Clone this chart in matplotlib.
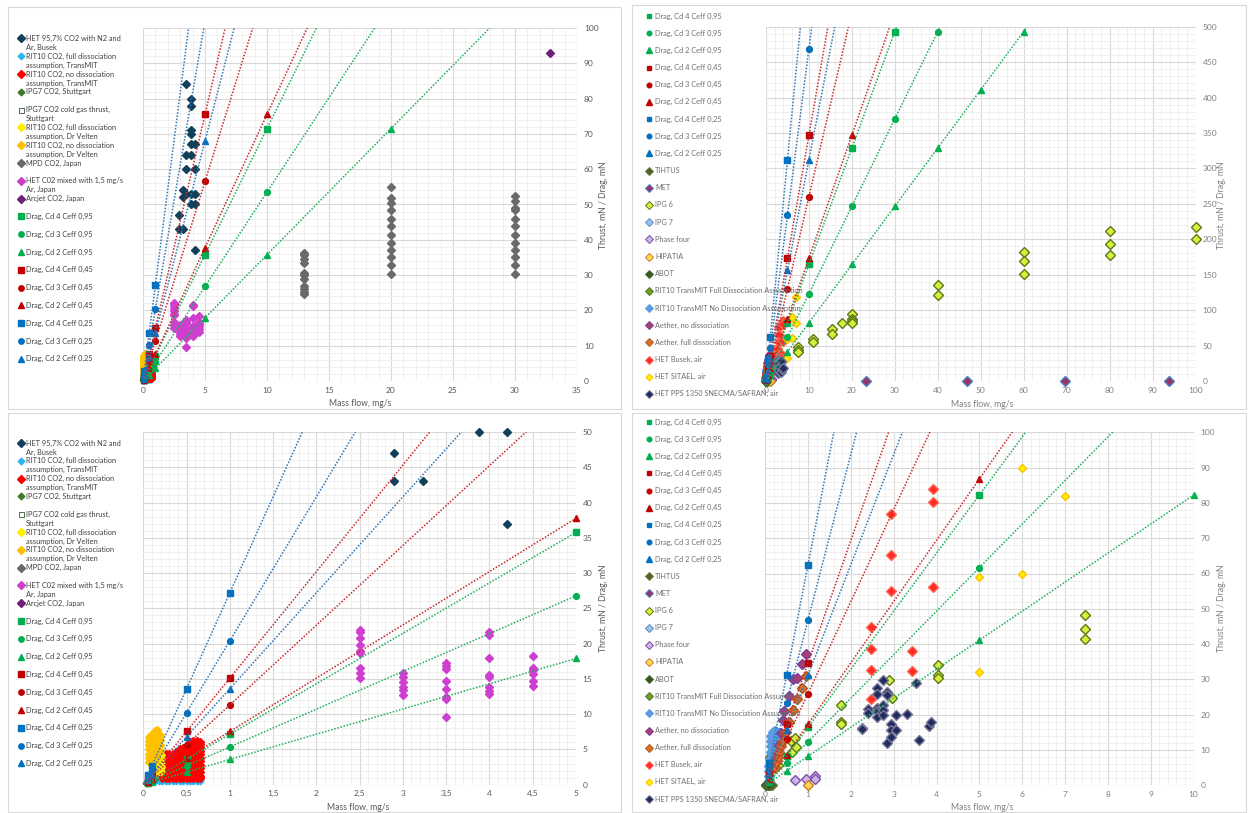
import numpy as np
import matplotlib
matplotlib.use("Agg")
import matplotlib.pyplot as plt
from matplotlib.ticker import MultipleLocator, FuncFormatter
from matplotlib.patches import Rectangle

plt.rcParams['font.family'] = ['Lato', 'DejaVu Sans']

W, H = 1248, 813

# ---------------------------------------------------------------- drag, CO2
DRAG_CO2_X = [0.05, 0.1, 0.5, 1, 5, 10, 20]
DRAG_CO2_CD4_095 = [0.36, 0.72, 3.6, 7.15, 35.8, 71.5, 143]
DRAG_CO2_CD3_095 = [0.27, 0.54, 2.7, 5.36, 26.8, 53.6, 107]
DRAG_CO2_CD2_095 = [0.18, 0.36, 1.8, 3.58, 17.9, 35.8, 71.5]
DRAG_CO2_CD4_045 = [0.76, 1.5, 7.55, 15.1, 75.5, 151, 302]
DRAG_CO2_CD3_045 = [0.57, 1.13, 5.66, 11.3, 56.6, 113, 226]
DRAG_CO2_CD2_045 = [0.38, 0.76, 3.78, 7.55, 37.8, 75.5, 151]
DRAG_CO2_CD4_025 = [1.36, 2.72, 13.6, 27.2, 136, 272, 544]
DRAG_CO2_CD3_025 = [1.02, 2.04, 10.2, 20.4, 102, 204, 408]
DRAG_CO2_CD2_025 = [0.68, 1.36, 6.8, 13.6, 68, 136, 272]

# ---------------------------------------------------------------- drag, air
DRAG_AIR_X = [0.1, 0.5, 1, 5, 10, 20, 30, 40, 50, 60]
DRAG_AIR_CD4_095 = [1.65, 8.2, 16.45, 82.2, 164.5, 329, 493, 658, 822, 987]
DRAG_AIR_CD3_095 = [1.23, 6.2, 12.3, 61.6, 123, 247, 370, 493, 617, 740]
DRAG_AIR_CD2_095 = [0.82, 4.1, 8.2, 41.1, 82.2, 164.5, 247, 329, 411, 493]
DRAG_AIR_CD4_045 = [3.47, 17.4, 34.7, 174, 347, 694, 1041, 1388, 1735, 2082]
DRAG_AIR_CD3_045 = [2.6, 13, 26, 130, 260, 521, 781, 1041, 1301, 1562]
DRAG_AIR_CD2_045 = [1.74, 8.7, 17.35, 86.8, 174, 347, 521, 694, 868, 1041]
DRAG_AIR_CD4_025 = [6.25, 31.2, 62.5, 312, 625, 1250, 1875, 2500, 3125, 3750]
DRAG_AIR_CD3_025 = [4.69, 23.4, 46.9, 234, 469, 938, 1407, 1876, 2345, 2814]
DRAG_AIR_CD2_025 = [3.12, 15.6, 31.2, 156, 312, 625, 937, 1250, 1562, 1875]

DRAG_LABELS = ["Drag, Cd 4 Ceff 0,95", "Drag, Cd 3 Ceff 0,95", "Drag, Cd 2 Ceff 0,95",
               "Drag, Cd 4 Ceff 0,45", "Drag, Cd 3 Ceff 0,45", "Drag, Cd 2 Ceff 0,45",
               "Drag, Cd 4 Ceff 0,25", "Drag, Cd 3 Ceff 0,25", "Drag, Cd 2 Ceff 0,25"]

# ---------------------------------------------------------------- CO2 thrusters
HET_BUSEK_CO2_X = [3.5, 3.88, 3.88, 3.88, 3.88, 3.88, 4.2, 3.5, 3.88, 3.5, 4.2,
                   3.2, 3.2, 3.5, 3.88, 4.2, 3.88, 4.2, 2.9, 2.9, 3.23, 4.2]
HET_BUSEK_CO2_Y = [84, 80, 78, 71, 70, 67, 67, 64, 64, 60, 60,
                   54, 52, 53, 53, 53, 50, 50, 47, 43, 43, 37]

RIT_TM_FULL_COLS = [0.10, 0.14, 0.18, 0.22, 0.26, 0.30, 0.34, 0.38, 0.42, 0.46, 0.50, 0.54, 0.58, 0.62, 0.66]
RIT_TM_FULL_Y = [[0.6, 0.9, 1.2, 1.5], [0.5, 0.8, 1.1, 1.4], [0.5, 0.8, 1.1], [0.5, 0.8],
                 [0.5, 0.8], [0.5, 0.8], [0.5, 0.8], [0.5, 0.8], [0.5, 0.8], [0.5, 0.8],
                 [0.5, 0.8], [0.5, 0.8], [0.5, 0.8], [0.5, 0.8], [0.5, 0.8]]

RIT_TM_NO_COLS = [0.22, 0.26, 0.30, 0.34, 0.38, 0.42, 0.46, 0.50, 0.54, 0.58, 0.62, 0.66]
RIT_TM_NO_Y = [
    [1.0, 1.4, 1.9, 2.4, 2.9, 3.4, 3.8],
    [0.9, 1.3, 1.8, 2.3, 2.8, 3.3, 3.8, 4.3],
    [0.9, 1.3, 1.8, 2.3, 2.8, 3.3, 3.8, 4.3],
    [0.9, 1.3, 1.8, 2.3, 2.8, 3.3, 3.8, 4.3],
    [0.9, 1.3, 1.8, 2.3, 2.8, 3.3, 3.8, 4.3, 4.6],
    [0.9, 1.3, 1.8, 2.3, 2.8, 3.3, 3.8, 4.3, 4.8, 5.1],
    [0.9, 1.3, 1.8, 2.3, 2.8, 3.3, 3.8, 4.3, 4.8, 5.2],
    [0.9, 1.3, 1.8, 2.3, 2.8, 3.3, 3.8, 4.3, 4.8, 5.2],
    [0.9, 1.3, 1.8, 2.3, 2.8, 3.3, 3.8, 4.3, 4.8, 5.3, 5.8, 6.1],
    [0.9, 1.3, 1.8, 2.3, 2.8, 3.3, 3.8, 4.3, 4.8, 5.3, 5.8, 6.2],
    [0.9, 1.3, 1.8, 2.3, 2.8, 3.3, 3.8, 4.3, 4.8, 5.3, 5.8, 6.2],
    [0.9, 1.3, 1.8, 2.3, 2.8, 3.3, 3.8, 4.3, 4.8, 5.3, 5.8, 6.0],
]

IPG7_CO2_X = [0.03, 0.06, 0.09, 0.12]
IPG7_CO2_Y = [0.2, 0.3, 0.45, 0.6]
IPG7_COLD_X = [0.04]
IPG7_COLD_Y = [0.2]

RIT_VELTEN_FULL_COLS = [0.12, 0.15, 0.18, 0.21]
RIT_VELTEN_FULL_Y = [[1.6, 2.1, 2.6, 3.1], [1.8, 2.3, 2.8, 3.3, 3.8],
                     [1.9, 2.4, 2.9, 3.4, 4.0, 4.6], [2.0, 2.5, 3.0, 3.6, 4.2]]
RIT_VELTEN_NO_COLS = [0.07, 0.10, 0.13, 0.16, 0.19]
RIT_VELTEN_NO_Y = [[3.2, 3.8, 4.4, 5.0, 5.6, 6.2, 6.7],
                   [3.0, 3.6, 4.2, 4.8, 5.4, 6.0, 6.6, 7.2],
                   [3.4, 4.0, 4.6, 5.2, 5.8, 6.4, 7.0, 7.6],
                   [3.8, 4.4, 5.0, 5.6, 6.2, 6.8, 7.4, 7.7],
                   [4.8, 5.6, 6.4, 7.1]]

MPD_CO2_COLS = [13, 20, 30]
MPD_CO2_Y = [[36.3, 35.6, 34.6, 33.4, 30.6, 29.9, 28.9, 27.0, 26.0, 25.1, 24.6],
             [54.9, 51.9, 50.5, 48.5, 45.9, 43.9, 41.5, 39.0, 37.0, 35.0, 32.9, 30.4],
             [52.5, 51.0, 48.9, 48.4, 45.9, 43.9, 41.5, 39.0, 37.0, 35.0, 32.9, 30.4]]

HET_AR_COLS = [2.5, 3.0, 3.5, 4.0, 4.5]
HET_AR_Y = [[22.0, 21.6, 20.8, 19.8, 19.0, 18.7, 16.6, 15.8, 15.1],
            [15.8, 15.3, 14.6, 13.9, 13.4, 12.7],
            [17.2, 16.8, 16.4, 14.7, 13.6, 12.4, 12.1, 9.6],
            [21.6, 21.2, 17.9, 15.6, 15.2, 13.9, 13.3, 12.8],
            [18.3, 16.6, 16.2, 15.7, 14.7, 14.0]]

ARCJET_X = [32.8]
ARCJET_Y = [93]

# ---------------------------------------------------------------- air thrusters
TIHTUS_X = [0.01, 0.03, 0.06, 0.12, 0.15]
TIHTUS_Y = [0.0, 0.1, 0.2, 0.05, 0.1]
MET_X = [23.3, 46.8, 69.7, 93.8]
MET_Y = [0, 0, 0, 0]
IPG6_X = [0.6, 0.63, 0.7, 0.72, 0.3, 1.76, 1.76, 1.76, 2.9, 2.95, 4.03, 4.03, 4.03,
          7.46, 7.46, 7.46, 10.9, 10.9, 15.3, 15.3, 17.7, 20, 20, 20, 20,
          40, 40, 60, 60, 60, 80, 80, 80, 100, 100]
IPG6_Y = [12.5, 9.5, 13.5, 10.8, 5.7, 22.8, 17.8, 17.3, 29.7, 24.8, 34.1, 31.3, 30.3,
          48.3, 44.3, 41.5, 58.8, 55.0, 73.0, 67.0, 82.0, 94.5, 88.0, 84.0, 82.0,
          136, 122, 182.5, 169, 150.5, 211.7, 193.8, 177.8, 217.8, 200.8]
IPG7_AIR_X = [0.05, 0.1]
IPG7_AIR_Y = [0.5, 1.2]
PHASE_FOUR_X = [0.69, 0.95, 1.17, 1.17]
PHASE_FOUR_Y = [1.5, 1.9, 2.7, 1.9]
HIPATIA_X = [1.0]
HIPATIA_Y = [0.2]
ABOT_X = [0.02, 0.05, 0.08, 0.1]
ABOT_Y = [0.1, 0.3, 0.5, 0.2]
RIT_AIR_FULL_X = [0.12, 0.15, 0.18, 0.2, 0.16, 0.22, 0.25]
RIT_AIR_FULL_Y = [8.0, 9.0, 10.0, 11.0, 7.0, 9.5, 12.0]
RIT_AIR_NO_X = [0.14, 0.14, 0.14, 0.14, 0.18, 0.18, 0.18, 0.18, 0.18, 0.22, 0.22, 0.22,
                0.22, 0.22, 0.26, 0.26, 0.26, 0.26, 0.30, 0.30, 0.30, 0.12, 0.10, 0.10, 0.08]
RIT_AIR_NO_Y = [9.5, 11.0, 12.5, 14.0, 9.8, 11.3, 12.8, 14.3, 15.2, 10.2, 11.7, 13.2,
                14.6, 15.4, 11.0, 12.5, 13.8, 15.0, 12.0, 13.5, 14.8, 7.5, 5.5, 4.0, 2.5]
AETHER_NO_X = [0.2, 0.25, 0.3, 0.33, 0.36, 0.41, 0.45, 0.55, 0.65, 0.74, 0.85, 0.95]
AETHER_NO_Y = [5.5, 7.5, 9.0, 11.5, 14.8, 18.5, 21.0, 25.4, 30.0, 30.3, 34.5, 37.1]
AETHER_FULL_X = [0.22, 0.25, 0.3, 0.33, 0.37, 0.42, 0.48, 0.55, 0.65, 0.74, 0.85, 0.95]
AETHER_FULL_Y = [5.0, 6.5, 8.0, 9.5, 11.0, 12.5, 15.0, 17.8, 21.2, 24.4, 27.7, 31.0]
HET_BUSEK_AIR_X = [2.46, 2.46, 2.46, 2.46, 2.94, 2.94, 2.94, 3.42, 3.42, 3.92, 3.92, 3.92]
HET_BUSEK_AIR_Y = [44.9, 38.5, 32.8, 24.4, 76.8, 65.1, 55.1, 38.0, 32.4, 84.0, 80.2, 56.2]
HET_SITAEL_X = [6, 7, 5, 6, 5, 6.94]
HET_SITAEL_Y = [89.9, 81.9, 58.9, 60.0, 32.0, 119]
HET_PPS_X = [2.25, 2.25, 2.39, 2.39, 2.6, 2.6, 2.6, 2.6, 2.6, 2.74, 2.74, 2.74, 2.74,
             2.85, 2.85, 2.85, 2.94, 2.94, 2.94, 3.06, 3.06, 3.3, 3.51, 3.6, 3.82, 3.87]
HET_PPS_Y = [16.3, 16.0, 21.5, 20.4, 27.5, 25.8, 21.8, 21.1, 19.4, 29.8, 22.8, 21.3, 19.8,
             26.5, 25.7, 11.9, 17.4, 15.7, 13.8, 19.9, 15.6, 20.3, 28.9, 12.8, 16.8, 17.9]

GREEN, RED, BLUE = '#00b050', '#c00000', '#0070c0'
LINE_COLORS = {GREEN: '#1fae5a', RED: '#c8282a', BLUE: '#2e75b6'}
DRAG_STYLE = [('s', GREEN), ('o', GREEN), ('^', GREEN),
              ('s', RED), ('o', RED), ('^', RED),
              ('s', BLUE), ('o', BLUE), ('^', BLUE)]
DRAG_MS = {'s': 4.0, 'o': 4.2, '^': 4.6}

fig = plt.figure(figsize=(W / 100, H / 100), dpi=100)
fig.patch.set_facecolor('white')

ov = fig.add_axes([0, 0, 1, 1], zorder=10)
ov.set_xlim(0, W)
ov.set_ylim(H, 0)
ov.axis('off')
ov.patch.set_alpha(0)

for (l, t, r, b) in [(8, 7, 621, 409), (632, 5, 1246, 409), (8, 413, 621, 812), (632, 413, 1246, 812)]:
    ov.add_patch(Rectangle((l, t), r - l, b - t, fill=False, ec='#d9d9d9', lw=0.8))


def comma(v, _pos):
    return ('%g' % v).replace('.', ',')


def make_axes(l, t, r, b, xmax, ymax, xmaj, xmin, ymaj, ymin, labcol):
    ax = fig.add_axes([l / W, 1 - b / H, (r - l) / W, (b - t) / H])
    ax.set_xlim(0, xmax)
    ax.set_ylim(0, ymax)
    ax.xaxis.set_major_locator(MultipleLocator(xmaj))
    ax.xaxis.set_minor_locator(MultipleLocator(xmin))
    ax.yaxis.set_major_locator(MultipleLocator(ymaj))
    ax.yaxis.set_minor_locator(MultipleLocator(ymin))
    ax.xaxis.set_major_formatter(FuncFormatter(comma))
    ax.yaxis.set_major_formatter(FuncFormatter(comma))
    ax.yaxis.tick_right()
    ax.grid(True, which='major', color='#d9d9d9', lw=0.8)
    ax.grid(True, which='minor', color='#eeeeee', lw=0.6)
    ax.set_axisbelow(True)
    for s in ax.spines.values():
        s.set_visible(False)
    ax.tick_params(axis='both', which='both', length=0, labelsize=6.0, labelcolor=labcol)
    ax.tick_params(axis='y', pad=5)
    ax.tick_params(axis='x', pad=4)
    return ax


def pts(ax, x, y, **kw):
    # only points inside the axis range are shown; those on an edge stay whole
    x = np.asarray(x, float)
    y = np.asarray(y, float)
    x0, x1 = ax.get_xlim()
    y0, y1 = ax.get_ylim()
    keep = (x >= x0) & (x <= x1 * 1.001) & (y >= y0) & (y <= y1 * 1.001)
    return ax.plot(x[keep], y[keep], ls='none', clip_on=False, **kw)


def scatter_cols(ax, cols, ylists, **kw):
    for xc, ys in zip(cols, ylists):
        pts(ax, [xc] * len(ys), ys, **kw)


def draw_drag(ax, xs, series, xmax):
    for ys, (mk, col) in zip(series, DRAG_STYLE):
        x = np.asarray(xs, float)
        y = np.asarray(ys, float)
        pts(ax, x, y, marker=mk, ms=DRAG_MS[mk], mfc=col, mec=col, zorder=5)
        slope = np.dot(x, y) / np.dot(x, x)
        ax.plot([0, xmax], [0, slope * xmax], ls=(0, (1, 1.1)), lw=1.1,
                color=LINE_COLORS[col], zorder=6)


# marker styles for CO2 series
ST_HET_BUSEK = dict(marker='D', ms=3.6, mfc='#123f5a', mec='#123f5a')
ST_RIT_TM_FULL = dict(marker='D', ms=3.4, mfc='#2ab7f0', mec='#2ab7f0')
ST_RIT_TM_NO = dict(marker='D', ms=3.6, mfc='#ff0000', mec='#ff0000')
ST_IPG7 = dict(marker='D', ms=3.4, mfc='#3f7a2a', mec='#3f7a2a')
ST_IPG7_COLD = dict(marker='s', ms=3.6, mfc='white', mec='#4d6b4d', mew=0.8)
ST_VELTEN_FULL = dict(marker='D', ms=3.6, mfc='#ffee00', mec='#ffee00')
ST_VELTEN_NO = dict(marker='D', ms=3.6, mfc='#ffc000', mec='#ffc000')
ST_MPD = dict(marker='D', ms=3.6, mfc='#6a6a6a', mec='#6a6a6a')
ST_HET_AR = dict(marker='D', ms=3.6, mfc='#cf3fcf', mec='#cf3fcf')
ST_ARCJET = dict(marker='D', ms=3.6, mfc='#70207a', mec='#70207a')


def draw_co2(ax, xmax):
    pts(ax, HET_BUSEK_CO2_X, HET_BUSEK_CO2_Y, zorder=3, **ST_HET_BUSEK)
    scatter_cols(ax, RIT_TM_FULL_COLS, RIT_TM_FULL_Y, zorder=3, **ST_RIT_TM_FULL)
    scatter_cols(ax, RIT_TM_NO_COLS, RIT_TM_NO_Y, zorder=3, **ST_RIT_TM_NO)
    pts(ax, IPG7_CO2_X, IPG7_CO2_Y, zorder=3, **ST_IPG7)
    pts(ax, IPG7_COLD_X, IPG7_COLD_Y, zorder=3, **ST_IPG7_COLD)
    scatter_cols(ax, RIT_VELTEN_FULL_COLS, RIT_VELTEN_FULL_Y, zorder=3, **ST_VELTEN_FULL)
    scatter_cols(ax, RIT_VELTEN_NO_COLS, RIT_VELTEN_NO_Y, zorder=3, **ST_VELTEN_NO)
    scatter_cols(ax, MPD_CO2_COLS, MPD_CO2_Y, zorder=3, **ST_MPD)
    scatter_cols(ax, HET_AR_COLS, HET_AR_Y, zorder=3, **ST_HET_AR)
    pts(ax, ARCJET_X, ARCJET_Y, zorder=3, **ST_ARCJET)
    draw_drag(ax, DRAG_CO2_X,
              [DRAG_CO2_CD4_095, DRAG_CO2_CD3_095, DRAG_CO2_CD2_095,
               DRAG_CO2_CD4_045, DRAG_CO2_CD3_045, DRAG_CO2_CD2_045,
               DRAG_CO2_CD4_025, DRAG_CO2_CD3_025, DRAG_CO2_CD2_025], xmax)


def edged(fc, ec, ms=4.6):
    return dict(marker='D', ms=ms, mfc=fc, mec=ec, mew=1.0)


ST_TIHTUS = edged('#4f6228', '#6b7d3a')
ST_MET = edged('#9a3468', '#4f7fc0')
ST_IPG6 = edged('#d7ef3a', '#5a7a1a')
ST_IPG7_AIR = edged('#9dc3e6', '#5b8fc5')
ST_PHASE4 = edged('#c9b6e6', '#7e4fa6')
ST_HIPATIA = edged('#ffd75a', '#d07a1e')
ST_ABOT = edged('#375623', '#476b30')
ST_RIT_AIR_FULL = edged('#6f9a2c', '#557a25')
ST_RIT_AIR_NO = edged('#5b9be0', '#5b9be0')
ST_AETHER_NO = edged('#a8406e', '#7a3a9a')
ST_AETHER_FULL = edged('#d9702c', '#b75a20')
ST_HET_BUSEK_AIR = edged('#ff2a2a', '#ff6a50')
ST_SITAEL = edged('#ffee00', '#ffc000', ms=4.2)
ST_PPS = edged('#1f2c5c', '#77779a')


def draw_air(ax, xmax):
    pts(ax, TIHTUS_X, TIHTUS_Y, zorder=3, **ST_TIHTUS)
    pts(ax, MET_X, MET_Y, zorder=3, **ST_MET)
    pts(ax, IPG6_X, IPG6_Y, zorder=3, **ST_IPG6)
    pts(ax, IPG7_AIR_X, IPG7_AIR_Y, zorder=3, **ST_IPG7_AIR)
    pts(ax, PHASE_FOUR_X, PHASE_FOUR_Y, zorder=3, **ST_PHASE4)
    pts(ax, HIPATIA_X, HIPATIA_Y, zorder=3, **ST_HIPATIA)
    pts(ax, ABOT_X, ABOT_Y, zorder=3, **ST_ABOT)
    pts(ax, RIT_AIR_FULL_X, RIT_AIR_FULL_Y, zorder=3, **ST_RIT_AIR_FULL)
    pts(ax, RIT_AIR_NO_X, RIT_AIR_NO_Y, zorder=3, **ST_RIT_AIR_NO)
    pts(ax, AETHER_NO_X, AETHER_NO_Y, zorder=3, **ST_AETHER_NO)
    pts(ax, AETHER_FULL_X, AETHER_FULL_Y, zorder=3, **ST_AETHER_FULL)
    pts(ax, HET_BUSEK_AIR_X, HET_BUSEK_AIR_Y, zorder=3, **ST_HET_BUSEK_AIR)
    pts(ax, HET_SITAEL_X, HET_SITAEL_Y, zorder=3, **ST_SITAEL)
    pts(ax, HET_PPS_X, HET_PPS_Y, zorder=3, **ST_PPS)
    draw_drag(ax, DRAG_AIR_X,
              [DRAG_AIR_CD4_095, DRAG_AIR_CD3_095, DRAG_AIR_CD2_095,
               DRAG_AIR_CD4_045, DRAG_AIR_CD3_045, DRAG_AIR_CD2_045,
               DRAG_AIR_CD4_025, DRAG_AIR_CD3_025, DRAG_AIR_CD2_025], xmax)


CO2_LEGEND = [
    ("HET 95,7% CO2 with N2 and\nAr, Busek", ST_HET_BUSEK),
    ("RIT10 CO2, full dissociation\nassumption, TransMIT", ST_RIT_TM_FULL),
    ("RIT10 CO2, no dissociation\nassumption, TransMIT", ST_RIT_TM_NO),
    ("IPG7 CO2, Stuttgart", ST_IPG7),
    ("IPG7 CO2 cold gas thrust,\nStuttgart", ST_IPG7_COLD),
    ("RIT10 CO2, full dissociation\nassumption, Dr Velten", ST_VELTEN_FULL),
    ("RIT10 CO2, no dissociation\nassumption, Dr Velten", ST_VELTEN_NO),
    ("MPD CO2, Japan", ST_MPD),
    ("HET C02 mixed with 1,5 mg/s\nAr, Japan", ST_HET_AR),
    ("Arcjet CO2, Japan", ST_ARCJET),
]
AIR_LEGEND = [
    ("TIHTUS", ST_TIHTUS), ("MET", ST_MET), ("IPG 6", ST_IPG6), ("IPG 7", ST_IPG7_AIR),
    ("Phase four", ST_PHASE4), ("HIPATIA", ST_HIPATIA), ("ABOT", ST_ABOT),
    ("RIT10 TransMIT Full Dissociation Assumption", ST_RIT_AIR_FULL),
    ("RIT10 TransMIT No Dissociation Assumption", ST_RIT_AIR_NO),
    ("Aether, no dissociation", ST_AETHER_NO), ("Aether, full dissociation", ST_AETHER_FULL),
    ("HET Busek, air", ST_HET_BUSEK_AIR), ("HET SITAEL, air", ST_SITAEL),
    ("HET PPS 1350 SNECMA/SAFRAN, air", ST_PPS),
]


def drag_legend():
    out = []
    for lab, (mk, col) in zip(DRAG_LABELS, DRAG_STYLE):
        out.append((lab, dict(marker=mk, ms=DRAG_MS[mk] - 0.3, mfc=col, mec=col)))
    return out


def draw_legend(entries, mx, tx, y0, dy, tcol, small=1.0):
    for i, (lab, st) in enumerate(entries):
        y = y0 + i * dy
        st = dict(st)
        st['ms'] = st['ms'] * small
        if 'mew' in st:
            st['mew'] = 0.7
        ov.plot([mx], [y], ls='none', **st)
        for j, line in enumerate(lab.split('\n')):
            ov.text(tx, y + j * 9.0, line, fontsize=5.3, color=tcol, va='center', ha='left')


def titles(xc, yb, yx, yc, col):
    ov.text(xc, yb, "Mass flow, mg/s", fontsize=6.2, color=col, ha='center', va='center')
    ov.text(yx, yc, "Thrust, mN / Drag, mN", fontsize=6.2, color=col, ha='center',
            va='center', rotation=90)


# panel 1: CO2, full range
ax1 = make_axes(143, 28, 577, 381, 35, 100, 5, 1, 10, 2, '#595959')
draw_co2(ax1, 35)
draw_legend(CO2_LEGEND + drag_legend(), 21, 26, 38.5, 17.8, '#404040')
titles(360, 403, 603, 205, '#595959')

# panel 2: air, full range
ax2 = make_axes(766, 26.7, 1195.5, 381, 100, 500, 10, 2, 50, 10, '#808080')
draw_air(ax2, 100)
draw_legend(drag_legend() + AIR_LEGEND, 649, 655, 16, 17.18, '#6e6e6e', small=0.85)
titles(982, 404, 1222, 205, '#808080')

# panel 3: CO2, low mass flow
ax3 = make_axes(143.3, 432, 575.8, 784.7, 5, 50, 0.5, 0.1, 5, 1, '#595959')
draw_co2(ax3, 5)
draw_legend(CO2_LEGEND + drag_legend(), 21, 26, 443, 17.8, '#404040')
titles(358, 807, 603, 608, '#595959')

# panel 4: air, low mass flow
ax4 = make_axes(765.2, 432.3, 1193.5, 785.3, 10, 100, 1, 0.2, 10, 2, '#808080')
draw_air(ax4, 10)
draw_legend(drag_legend() + AIR_LEGEND, 649, 655, 422, 17.14, '#6e6e6e', small=0.85)
titles(982, 807, 1222, 608, '#808080')

fig.savefig("out.png", dpi=100, facecolor='white')
